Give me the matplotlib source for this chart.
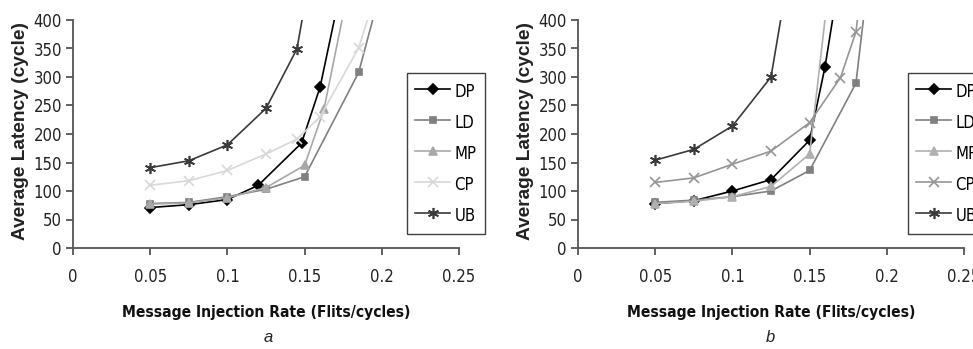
import matplotlib
matplotlib.use("Agg")
import matplotlib.pyplot as plt
from matplotlib import font_manager
from matplotlib.font_manager import FontProperties

# look for a condensed face (Arial Narrow look-alike)
def find_font(words, bold):
    for f in font_manager.fontManager.ttflist:
        fn = f.fname.lower()
        if any(w in fn for w in words):
            isbold = "bold" in fn
            if isbold == bold and "italic" not in fn and "oblique" not in fn:
                return f.fname
    return None

reg_file = find_font(["sansnarrow", "sans-narrow", "sanscondensed"], False)
bold_file = find_font(["sansnarrow", "sans-narrow", "sanscondensed"], True)
have_narrow = reg_file is not None

series = ["DP", "LD", "MP", "CP", "UB"]

# panel a
a_x = {
    "DP": [0.05, 0.075, 0.1, 0.12, 0.148, 0.16, 0.17],
    "LD": [0.05, 0.075, 0.1, 0.125, 0.15, 0.185, 0.2],
    "MP": [0.05, 0.075, 0.1, 0.125, 0.15, 0.1625, 0.175],
    "CP": [0.05, 0.075, 0.1, 0.125, 0.145, 0.16, 0.185, 0.2],
    "UB": [0.05, 0.075, 0.1, 0.125, 0.145, 0.15],
}
a_y = {
    "DP": [71, 76, 85, 110, 184, 282, 410],
    "LD": [78, 80, 90, 103, 125, 308, 460],
    "MP": [77, 79, 88, 106, 145, 243, 410],
    "CP": [110, 118, 136, 165, 191, 230, 351, 480],
    "UB": [141, 153, 181, 245, 349, 425],
}

# panel b
b_x = {
    "DP": [0.05, 0.075, 0.1, 0.125, 0.15, 0.16, 0.17],
    "LD": [0.05, 0.075, 0.1, 0.125, 0.15, 0.18, 0.19],
    "MP": [0.05, 0.075, 0.1, 0.125, 0.15, 0.165],
    "CP": [0.05, 0.075, 0.1, 0.125, 0.15, 0.17, 0.18, 0.19],
    "UB": [0.05, 0.075, 0.1, 0.125, 0.15],
}
b_y = {
    "DP": [78, 83, 100, 120, 189, 318, 487],
    "LD": [80, 84, 90, 100, 136, 289, 520],
    "MP": [78, 82, 90, 108, 165, 520],
    "CP": [115, 123, 147, 170, 220, 299, 379, 600],
    "UB": [154, 173, 214, 300, 700],
}

markers = {"DP": "D", "LD": "s", "MP": "^", "CP": "x", "UB": (6, 2, 0)}
msizes = {"DP": 5, "LD": 5, "MP": 5.5, "CP": 7, "UB": 8}
a_colors = {"DP": "#000000", "LD": "#808080", "MP": "#a8a8a8", "CP": "#d8d8d8", "UB": "#3a3a3a"}
b_colors = {"DP": "#000000", "LD": "#808080", "MP": "#b0b0b0", "CP": "#959595", "UB": "#3a3a3a"}

xticks = [0, 0.05, 0.1, 0.15, 0.2, 0.25]
xticklabels = ["0", "0.05", "0.1", "0.15", "0.2", "0.25"]
yticks = [0, 50, 100, 150, 200, 250, 300, 350, 400]

if have_narrow:
    tick_fp = FontProperties(fname=reg_file, size=12)
    xlab_fp = FontProperties(fname=bold_file or reg_file, size=11.2, weight="bold")
    leg_fp = FontProperties(fname=reg_file, size=12)
else:
    tick_fp = FontProperties(family="Liberation Sans", size=10.5)
    xlab_fp = FontProperties(family="Liberation Sans", size=11, weight="bold")
    leg_fp = FontProperties(family="Liberation Sans", size=11)
ylab_fp = FontProperties(family="Liberation Sans", size=13.8, weight="bold")

W, H = 973, 349
fig = plt.figure(figsize=(W / 100, H / 100), dpi=100)


def panel(left_px, xs, ys, colors, leg_px, tag, tag_px):
    ax = fig.add_axes([left_px / W, 1 - 248 / H, 386 / W, 228 / H])
    for s in series:
        ax.plot(xs[s], ys[s], color=colors[s], lw=1.2, marker=markers[s],
                ms=msizes[s], mew=1.2, label=s)
    ax.set_xlim(0, 0.25)
    ax.set_ylim(0, 400)
    ax.set_xticks(xticks)
    ax.set_xticklabels(xticklabels)
    ax.set_yticks(yticks)
    for sp in ["top", "right"]:
        ax.spines[sp].set_visible(False)
    for sp in ["left", "bottom"]:
        ax.spines[sp].set_color("#555555")
        ax.spines[sp].set_linewidth(1.3)
    ax.tick_params(axis="x", direction="out", length=5, width=1.3, color="#555555",
                   pad=9.5, labelcolor="#222222")
    ax.tick_params(axis="y", direction="out", length=5, width=1.3, color="#555555",
                   pad=3, labelcolor="#222222")
    for lab in ax.get_xticklabels() + ax.get_yticklabels():
        lab.set_fontproperties(tick_fp)
    ax.set_xlabel("Message Injection Rate (Flits/cycles)", fontproperties=xlab_fp,
                  color="#111111", va="center")
    ax.xaxis.set_label_coords(0.5, -(313 - 248) / 228)
    ax.set_ylabel("Average Latency (cycle)", fontproperties=ylab_fp,
                  color="#222222", va="center")
    ax.yaxis.set_label_coords(-52 / 386, (248 - 131) / 228)
    leg = ax.legend(loc="upper left", bbox_to_anchor=(leg_px[0] / W, 1 - leg_px[1] / H),
                    bbox_transform=fig.transFigure, frameon=True, fancybox=False,
                    edgecolor="#111111", prop=leg_fp,
                    handlelength=2.1, handleheight=1.55, handletextpad=0.25,
                    labelspacing=0.6, borderpad=0.5, borderaxespad=0)
    leg.get_frame().set_linewidth(1.0)
    fig.text(tag_px / W, 1 - 337 / H, tag, ha="center", va="center",
             fontsize=12, style="italic", family="Liberation Sans", color="#222222")
    return ax


panel(73, a_x, a_y, a_colors, (407, 73), "a", 268)
panel(578, b_x, b_y, b_colors, (908, 73), "b", 770)

fig.savefig("out.png", dpi=100)
